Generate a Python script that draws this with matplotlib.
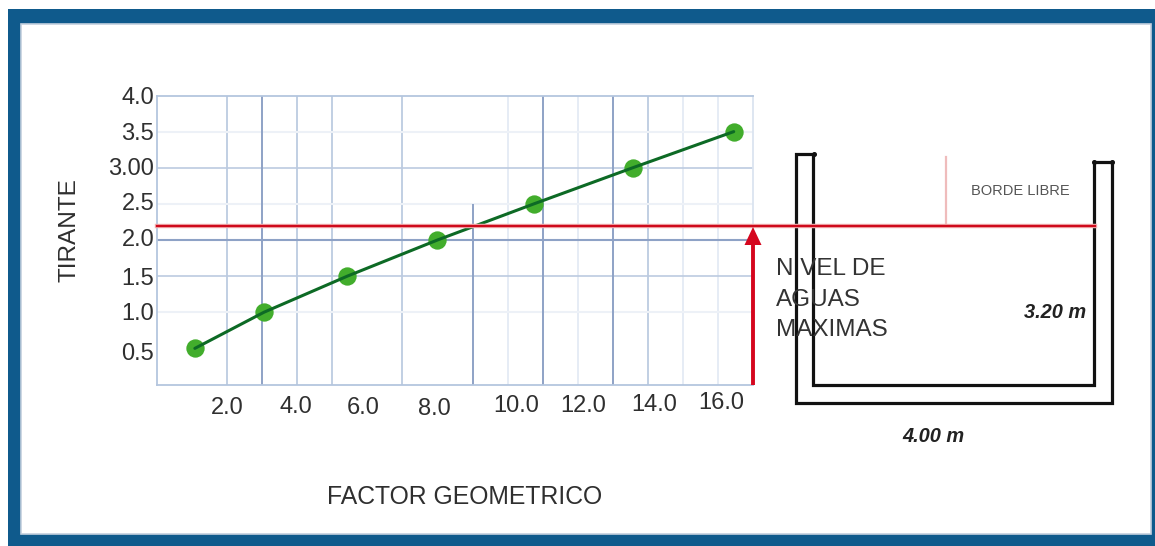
import matplotlib
matplotlib.use("Agg")
import matplotlib.pyplot as plt
from matplotlib.patches import Rectangle
from matplotlib.transforms import Affine2D

plt.rcParams['font.family'] = ['Liberation Sans', 'DejaVu Sans']

# data
factor = [1.08, 3.05, 5.43, 8.0, 10.75, 13.57, 16.45]
tirante = [0.5, 1.0, 1.5, 2.0, 2.5, 3.0, 3.5]
x_ticks = [2, 4, 6, 8, 10, 12, 14, 16]
x_labels = ['2.0', '4.0', '6.0', '8.0', '10.0', '12.0', '14.0', '16.0']
y_ticks = [0.5, 1.0, 1.5, 2.0, 2.5, 3.0, 3.5, 4.0]
y_labels = ['0.5', '1.0', '1.5', '2.0', '2.5', '3.00', '3.5', '4.0']
nivel_aguas = 2.2

# grid groups
v_faint = [10, 12, 15, 16]
v_medium = [2, 4, 5, 7, 14]
v_dark = [3, 9, 11, 13]
h_faint = [2.5, 3.5, 1.0]
h_medium = [3.0, 1.5]
h_dark = [2.0]

# hand-placed label displacement in the reference (pixels)
x_label_dx = [0, -1, -4, -3, 9, 5, 6, 3]
x_label_dy = [0, 1, 0, -1, 2, 2, 3, 5]
y_label_dy = [-3, 1, 0, 2, 2, 1, 0, 0]

W, H = 1155, 546
fig = plt.figure(figsize=(W / 100, H / 100), dpi=100, facecolor='white')

# overlay in pixel coordinates for frame and schematic
bg = fig.add_axes([0, 0, 1, 1], zorder=0)
bg.set_xlim(0, W)
bg.set_ylim(H, 0)
bg.axis('off')
bg.add_patch(Rectangle((8, 9), W - 8, H - 9, fc='#0f5a8c', ec='none'))
bg.add_patch(Rectangle((21, 24), 1130, 509.5, fc='white', ec='#c4d0de', lw=1.2))

# main chart
L, R, T, B = 157, 753, 95.5, 384.5
ax = fig.add_axes([L / W, 1 - B / H, (R - L) / W, (B - T) / H], zorder=1)
ax.patch.set_alpha(0)
ax.set_xlim(0, 17)
ax.set_ylim(0, 4)
for s in ax.spines.values():
    s.set_color('#b4c6de')
    s.set_linewidth(1.3)
ax.spines['right'].set_color('#dbe4f0')

C_FAINT, C_MED, C_DARK = '#e2e9f3', '#bccbe0', '#8ea2c6'
ax.vlines(v_faint, 0, 4, color=C_FAINT, lw=1.2, zorder=1)
ax.vlines(v_medium, 0, 4, color=C_MED, lw=1.3, zorder=1)
ax.vlines([v for v in v_dark if v != 9], 0, 4, color=C_DARK, lw=1.4, zorder=2)
ax.vlines([9], 0, 2.5, color=C_DARK, lw=1.4, zorder=2)
ax.hlines(h_faint, 0, 17, color='#edf1f7', lw=1.5, zorder=1)
ax.hlines(h_medium, 0, 17, color=C_MED, lw=1.2, zorder=1)
ax.hlines(h_dark, 0, 17, color=C_DARK, lw=1.5, zorder=2)

ax.plot(factor, tirante, ls='none', marker='o', ms=13.2, mfc='#42ad2c', mec='none', zorder=4)
ax.plot(factor, tirante, color='#0d6a25', lw=2.2, zorder=5, solid_capstyle='round')

ax.set_xticks(x_ticks, x_labels)
ax.set_yticks(y_ticks, y_labels)
ax.tick_params(axis='both', length=0, labelsize=17, labelcolor='#2f2f2f')
ax.tick_params(axis='x', pad=9)
ax.tick_params(axis='y', pad=2)
for tick, dx, dy in zip(ax.xaxis.get_major_ticks(), x_label_dx, x_label_dy):
    tick.label1.set_transform(tick.label1.get_transform() + Affine2D().translate(dx, dy))
for tick, dy in zip(ax.yaxis.get_major_ticks(), y_label_dy):
    tick.label1.set_transform(tick.label1.get_transform() + Affine2D().translate(0, dy))

fig.text(465 / W, 1 - 497 / H, 'FACTOR GEOMETRICO', fontsize=17.8, color='#2f2f2f',
         ha='center', va='center')
fig.text(69 / W, 1 - 230 / H, 'TIRANTE', fontsize=17.6, color='#2f2f2f', rotation=90,
         ha='center', va='center')

# schematic overlay
ov = fig.add_axes([0, 0, 1, 1], zorder=2)
ov.set_xlim(0, W)
ov.set_ylim(H, 0)
ov.axis('off')
ov.patch.set_alpha(0)

ov.plot([946, 946], [157, 226], color='#efbcbc', lw=1.6)

tank_k = dict(color='#111111', lw=2.3, solid_joinstyle='miter', solid_capstyle='round')
ov.plot([814, 796, 796, 1112, 1112, 1094, 1094, 813, 813],
        [154, 154, 403, 403, 162, 162, 385, 385, 154], **tank_k)
ov.plot([814, 1094, 1112], [154, 162, 162], ls='none', marker='o', ms=2.6, color='#111111')

ov.plot([157, 1095], [226, 226], color='#f3b9b9', lw=3.2, zorder=3)
ov.plot([157, 1095], [226, 226], color='#cf0a1c', lw=1.7, zorder=4)
ov.plot([753, 753], [385, 240], color='#d5061e', lw=2.8, zorder=4, solid_capstyle='butt')
ov.fill([753, 744.5, 761.5], [227, 245, 245], color='#d5061e', zorder=4, lw=0)

for y, s in zip([269, 300, 330], ['N VEL DE', 'AGUAS', 'MAXIMAS']):
    ov.text(776, y, s, fontsize=17.5, color='#333333', ha='left', va='center', zorder=5)
ov.text(1020, 191, 'BORDE LIBRE', fontsize=10.5, color='#555555', ha='center', va='center', zorder=5)
ov.text(1055, 312, '3.20 m', fontsize=14.4, style='italic', weight='bold', color='#222222',
        ha='center', va='center', zorder=5)
ov.text(933, 436, '4.00 m', fontsize=14.4, style='italic', weight='bold', color='#222222',
        ha='center', va='center', zorder=5)

fig.savefig('out.png', dpi=100, facecolor='white')
